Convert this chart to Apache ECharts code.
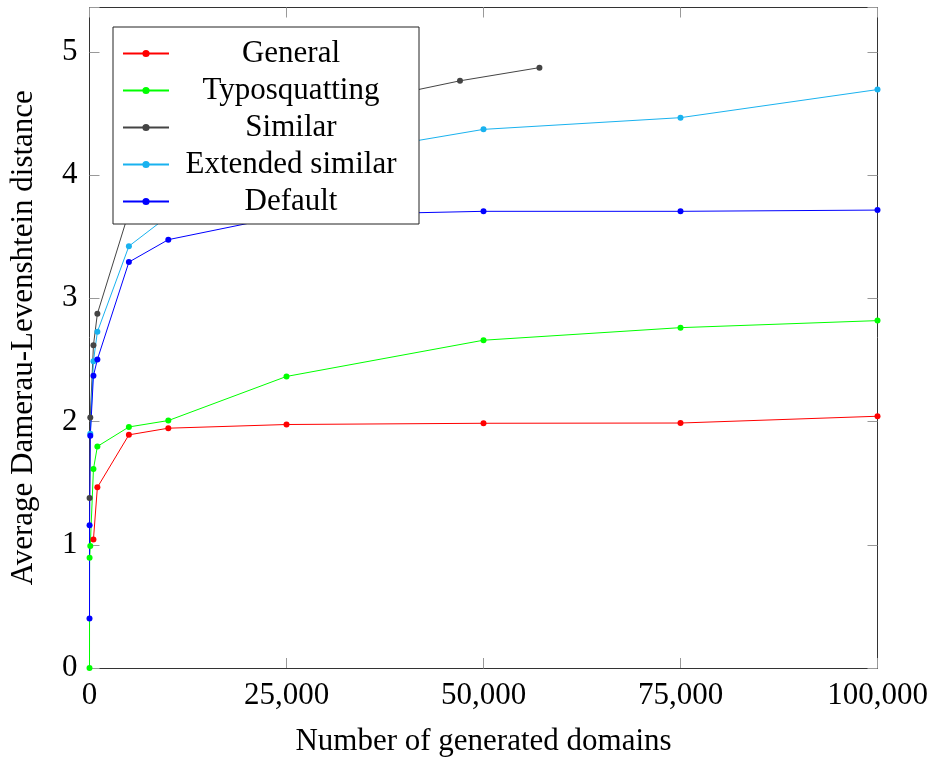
<!DOCTYPE html>
<html>
<head>
<meta charset="utf-8">
<script src="https://cdn.jsdelivr.net/npm/echarts@6/dist/echarts.min.js"></script>
<style>
html,body{margin:0;padding:0;background:#fff;}
#c{width:931px;height:762px;}
</style>
</head>
<body>
<div id="c"></div>
<script>
// ---- data ----
const seriesNames = ['General', 'Typosquatting', 'Similar', 'Extended similar', 'Default'];
const generalX = [500, 1000, 5000, 10000, 25000, 50000, 75000, 100000];
const generalY = [1.043, 1.466, 1.892, 1.946, 1.976, 1.986, 1.988, 2.043];
const typoX = [1, 10, 100, 500, 1000, 5000, 10000, 25000, 50000, 75000, 100000];
const typoY = [0, 0.895, 0.99, 1.614, 1.798, 1.956, 2.008, 2.366, 2.660, 2.762, 2.819];
const similarX = [10, 100, 500, 1000, 5000, 10000, 25000, 47017, 57097];
const similarY = [1.38, 2.032, 2.62, 2.875, 3.70, 4.05, 4.47, 4.765, 4.872];
const extX = [100, 500, 1000, 5000, 10000, 25000, 50000, 75000, 100000];
const extY = [1.90, 2.49, 2.728, 3.423, 3.668, 4.10, 4.371, 4.466, 4.694];
const defX = [1, 10, 100, 500, 1000, 5000, 10000, 25000, 50000, 75000, 100000];
const defY = [0.402, 1.159, 1.884, 2.372, 2.504, 3.294, 3.476, 3.672, 3.706, 3.706, 3.716];
const xTicks = [0, 25000, 50000, 75000, 100000];
const yTicks = [0, 1, 2, 3, 4, 5];
const colors = ['#ff0000', '#00ff00', '#444444', '#19b2ef', '#0000ff'];

const FONT = 'Liberation Serif';
function pairs(xs, ys) { return xs.map((x, i) => [x, ys[i]]); }
const allData = [pairs(generalX, generalY), pairs(typoX, typoY), pairs(similarX, similarY), pairs(extX, extY), pairs(defX, defY)];

const chart = echarts.init(document.getElementById('c'), null, {renderer: 'canvas'});
const fmtX = v => xTicks.includes(v) ? v.toLocaleString('en-US') : '';
const fmtY = v => yTicks.includes(v) ? String(v) : '';

const tickStyle = {show: true, inside: true, length: 10, lineStyle: {color: '#999', width: 1}};
const lineAx = {show: true, onZero: false, lineStyle: {color: '#333', width: 1}};

chart.setOption({
  animation: false,
  backgroundColor: '#fff',
  grid: {left: 89.5, top: 7.5, width: 788, height: 663, containLabel: false},
  legend: {
    orient: 'vertical',
    left: 113, top: 27,
    padding: [11, 11, 7, 9],
    itemGap: 6,
    itemWidth: 46, itemHeight: 9,
    backgroundColor: '#fff',
    borderColor: '#222', borderWidth: 1,
    data: seriesNames,
    formatter: name => '{c|' + name + '}',
    textStyle: {
      fontFamily: FONT, fontSize: 31, color: '#000',
      rich: {c: {width: 234, align: 'center', fontFamily: FONT, fontSize: 31, lineHeight: 31, color: '#000'}}
    }
  },
  xAxis: [{
    type: 'value', min: 0, max: 100000, interval: 25000, position: 'bottom',
    axisLine: lineAx, axisTick: tickStyle, splitLine: {show: false},
    axisLabel: {formatter: fmtX, fontFamily: FONT, fontSize: 31, color: '#000', margin: 12},
    name: 'Number of generated domains', nameLocation: 'middle', nameGap: 58,
    nameTextStyle: {fontFamily: FONT, fontSize: 31, color: '#000'}
  }, {
    type: 'value', min: 0, max: 100000, interval: 25000, position: 'top',
    axisLine: lineAx, axisTick: tickStyle, splitLine: {show: false}, axisLabel: {show: false}
  }],
  yAxis: [{
    type: 'value', min: 0, max: 5.36, interval: 1, position: 'left',
    axisLine: lineAx, axisTick: tickStyle, splitLine: {show: false},
    axisLabel: {formatter: fmtY, fontFamily: FONT, fontSize: 31, color: '#000', margin: 12},
    name: 'Average Damerau-Levenshtein distance', nameLocation: 'middle', nameGap: 50,
    nameTextStyle: {fontFamily: FONT, fontSize: 31, color: '#000'}
  }, {
    type: 'value', min: 0, max: 5.36, interval: 1, position: 'right',
    axisLine: lineAx, axisTick: tickStyle, splitLine: {show: false}, axisLabel: {show: false}
  }],
  series: seriesNames.map((n, i) => ({
    name: n, type: 'line', data: allData[i],
    xAxisIndex: 0, yAxisIndex: 0,
    symbol: 'circle', symbolSize: 6, showSymbol: true,
    lineStyle: {color: colors[i], width: 1},
    itemStyle: {color: colors[i]},
    emphasis: {disabled: true},
    clip: false
  }))
});
</script>
</body>
</html>
